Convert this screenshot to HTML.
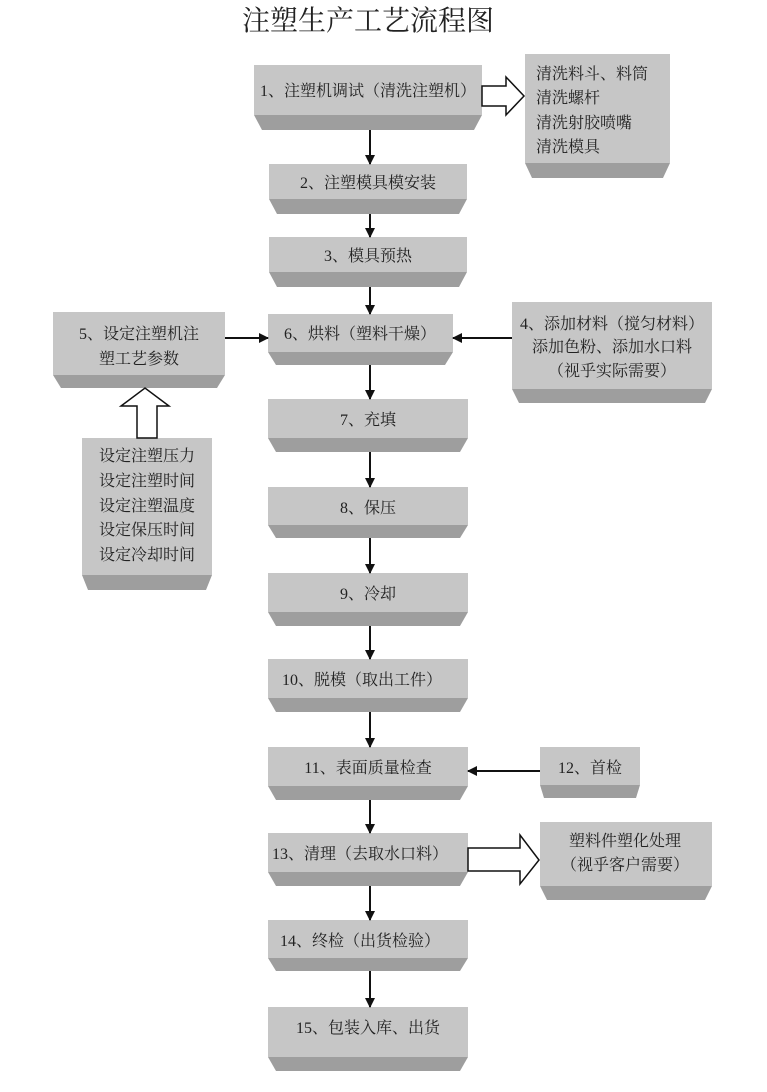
<!DOCTYPE html>
<html><head><meta charset="utf-8"><style>
html,body{margin:0;padding:0;background:#fff;}
svg{display:block;}
text{font-family:"Liberation Serif","Noto Serif CJK SC",serif;fill:#222;}
</style></head><body>
<svg width="767" height="1092" viewBox="0 0 767 1092">
<defs>
<marker id="a" markerWidth="10" markerHeight="10" refX="9" refY="5" orient="auto" markerUnits="userSpaceOnUse">
<path d="M0,0 L10,5 L0,10 Z" fill="#111"/></marker>
</defs>
<text x="368" y="30" font-size="28" text-anchor="middle">注塑生产工艺流程图</text>
<g id="boxes">
<rect x="254" y="65" width="228" height="50" fill="#c6c6c6"/><polygon points="254,115 482,115 474,130 262,130" fill="#9e9e9e"/>
<rect x="525" y="54" width="145" height="109" fill="#c6c6c6"/><polygon points="525,163 670,163 663,178 532,178" fill="#9e9e9e"/>
<rect x="269" y="164" width="198" height="35" fill="#c6c6c6"/><polygon points="269,199 467,199 459,214 277,214" fill="#9e9e9e"/>
<rect x="269" y="237" width="198" height="35" fill="#c6c6c6"/><polygon points="269,272 467,272 459,287 277,287" fill="#9e9e9e"/>
<rect x="53" y="312" width="172" height="63" fill="#c6c6c6"/><polygon points="53,375 225,375 217,388 61,388" fill="#9e9e9e"/>
<rect x="268" y="314" width="185" height="38" fill="#c6c6c6"/><polygon points="268,352 453,352 445,365 276,365" fill="#9e9e9e"/>
<rect x="512" y="302" width="200" height="87" fill="#c6c6c6"/><polygon points="512,389 712,389 705,403 519,403" fill="#9e9e9e"/>
<rect x="82" y="438" width="130" height="137" fill="#c6c6c6"/><polygon points="82,575 212,575 206,590 88,590" fill="#9e9e9e"/>
<rect x="268" y="399" width="200" height="39" fill="#c6c6c6"/><polygon points="268,438 468,438 460,452 276,452" fill="#9e9e9e"/>
<rect x="268" y="487" width="200" height="38" fill="#c6c6c6"/><polygon points="268,525 468,525 460,538 276,538" fill="#9e9e9e"/>
<rect x="268" y="573" width="200" height="39" fill="#c6c6c6"/><polygon points="268,612 468,612 460,626 276,626" fill="#9e9e9e"/>
<rect x="268" y="659" width="200" height="39" fill="#c6c6c6"/><polygon points="268,698 468,698 460,712 276,712" fill="#9e9e9e"/>
<rect x="268" y="747" width="200" height="39" fill="#c6c6c6"/><polygon points="268,786 468,786 460,800 276,800" fill="#9e9e9e"/>
<rect x="540" y="747" width="100" height="38" fill="#c6c6c6"/><polygon points="540,785 640,785 636,798 544,798" fill="#9e9e9e"/>
<rect x="268" y="833" width="200" height="39" fill="#c6c6c6"/><polygon points="268,872 468,872 460,886 276,886" fill="#9e9e9e"/>
<rect x="540" y="822" width="172" height="64" fill="#c6c6c6"/><polygon points="540,886 712,886 705,900 547,900" fill="#9e9e9e"/>
<rect x="268" y="920" width="200" height="38" fill="#c6c6c6"/><polygon points="268,958 468,958 460,971 276,971" fill="#9e9e9e"/>
<rect x="268" y="1007" width="200" height="50" fill="#c6c6c6"/><polygon points="268,1057 468,1057 460,1071 276,1071" fill="#9e9e9e"/>
</g>
<g stroke="#111" stroke-width="2" fill="none">
<line x1="370" y1="130" x2="370" y2="164" marker-end="url(#a)"/>
<line x1="370" y1="214" x2="370" y2="237" marker-end="url(#a)"/>
<line x1="370" y1="287" x2="370" y2="314" marker-end="url(#a)"/>
<line x1="370" y1="365" x2="370" y2="399" marker-end="url(#a)"/>
<line x1="370" y1="452" x2="370" y2="487" marker-end="url(#a)"/>
<line x1="370" y1="538" x2="370" y2="573" marker-end="url(#a)"/>
<line x1="370" y1="626" x2="370" y2="659" marker-end="url(#a)"/>
<line x1="370" y1="712" x2="370" y2="747" marker-end="url(#a)"/>
<line x1="370" y1="800" x2="370" y2="833" marker-end="url(#a)"/>
<line x1="370" y1="886" x2="370" y2="920" marker-end="url(#a)"/>
<line x1="370" y1="971" x2="370" y2="1007" marker-end="url(#a)"/>
<line x1="225" y1="338" x2="268" y2="338" marker-end="url(#a)"/>
<line x1="512" y1="338" x2="453" y2="338" marker-end="url(#a)"/>
<line x1="540" y1="771" x2="468" y2="771" marker-end="url(#a)"/>
</g>
<g stroke="#111" stroke-width="1.5" fill="#fff">
<polygon points="482,86 506,86 506,77 524,96 506,115 506,106 482,106"/>
<polygon points="137,438 137,406 121,406 145,388 169,406 157,406 157,438"/>
<polygon points="468,848 520,848 520,835 539,860 520,884 520,871 468,871"/>
</g>
<g font-size="16">
<text x="368" y="96" text-anchor="middle">1、注塑机调试（清洗注塑机）</text>
<text x="536" y="79">清洗料斗、料筒</text>
<text x="536" y="103">清洗螺杆</text>
<text x="536" y="128">清洗射胶喷嘴</text>
<text x="536" y="152">清洗模具</text>
<text x="368" y="188" text-anchor="middle">2、注塑模具模安装</text>
<text x="368" y="261" text-anchor="middle">3、模具预热</text>
<text x="139" y="339" text-anchor="middle">5、设定注塑机注</text>
<text x="139" y="364" text-anchor="middle">塑工艺参数</text>
<text x="360" y="339" text-anchor="middle">6、烘料（塑料干燥）</text>
<text x="612" y="329" text-anchor="middle">4、添加材料（搅匀材料）</text>
<text x="612" y="352" text-anchor="middle">添加色粉、添加水口料</text>
<text x="612" y="376" text-anchor="middle">（视乎实际需要）</text>
<text x="147" y="461" text-anchor="middle">设定注塑压力</text>
<text x="147" y="486" text-anchor="middle">设定注塑时间</text>
<text x="147" y="511" text-anchor="middle">设定注塑温度</text>
<text x="147" y="535" text-anchor="middle">设定保压时间</text>
<text x="147" y="560" text-anchor="middle">设定冷却时间</text>
<text x="368" y="425" text-anchor="middle">7、充填</text>
<text x="368" y="513" text-anchor="middle">8、保压</text>
<text x="368" y="599" text-anchor="middle">9、冷却</text>
<text x="362" y="685" text-anchor="middle">10、脱模（取出工件）</text>
<text x="368" y="773" text-anchor="middle">11、表面质量检查</text>
<text x="590" y="773" text-anchor="middle">12、首检</text>
<text x="360" y="859" text-anchor="middle">13、清理（去取水口料）</text>
<text x="625" y="846" text-anchor="middle">塑料件塑化处理</text>
<text x="625" y="870" text-anchor="middle">（视乎客户需要）</text>
<text x="360" y="946" text-anchor="middle">14、终检（出货检验）</text>
<text x="368" y="1033" text-anchor="middle">15、包装入库、出货</text>
</g>
</svg>
</body></html>
